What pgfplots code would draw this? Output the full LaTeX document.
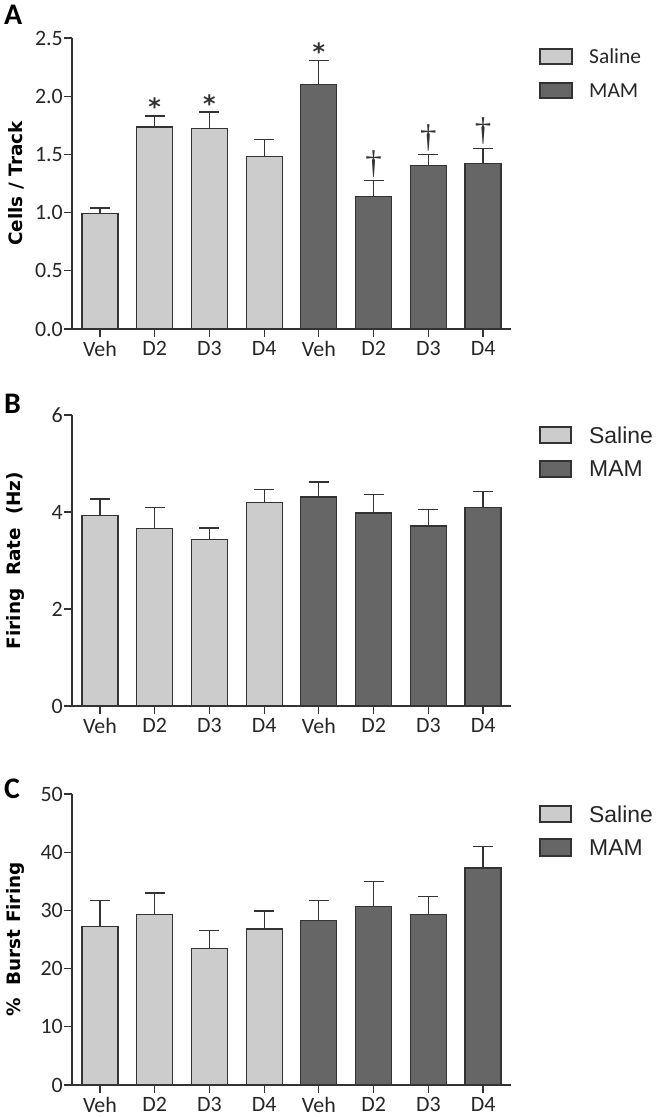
\documentclass[border=0pt]{standalone}
\usepackage{fontspec}
\setmainfont{Carlito}
\newfontfamily\labfont{DejaVu Sans}
\newfontfamily\arialfont{Liberation Sans}
\newfontfamily\timesfont{Liberation Serif}
\usepackage{pgfplots}
\pgfplotsset{compat=1.18}
\definecolor{lightbar}{HTML}{CCCCCC}
\definecolor{darkbar}{HTML}{666666}
\definecolor{edge}{HTML}{333333}
\tikzset{
  sigstar/.style={anchor=north, inner sep=0, font=\labfont\bfseries\fontsize{24}{24}\selectfont, text=black!80},
  sigdag/.style={anchor=north, inner sep=0, font=\timesfont\fontsize{33}{33}\selectfont, text=black!80},
}
\pgfplotsset{
  panel/.style={
    scale only axis, width=439bp, height=291bp,
    xmin=-0.51, xmax=7.51, ymin=0,
    axis x line=bottom, axis y line=left,
    axis line style={-, draw=edge, line width=1.2bp},
    xtick={0,...,7}, xticklabels={Veh,D2,D3,D4,Veh,D2,D3,D4},
    tick align=outside, major tick length=8bp,
    tick style={draw=edge, line width=1.2bp},
    ticklabel style={font=\fontsize{22}{22}\selectfont, inner sep=1bp, text=black!85},
    xticklabel style={yshift=-3bp},
    /pgf/number format/assume math mode=true,
    clip=false,
    every axis y label/.style={at={(axis description cs:-0.1276,0.5)}, rotate=90, anchor=center,
      font=\labfont\bfseries\fontsize{18.5}{18.5}\selectfont},
  },
  barbase/.style={ybar, bar width=36bp, bar shift=0pt, draw=edge, line width=1.2bp,
    error bars/y dir=plus, error bars/y explicit,
    error bars/error bar style={draw=edge, line width=1.2bp},
    error bars/error mark options={rotate=90, mark size=10bp, line width=1.2bp, draw=edge}},
  sal/.style={barbase, fill=lightbar},
  mam/.style={barbase, fill=darkbar},
}
\begin{document}
\begin{tikzpicture}
\useasboundingbox (0,0) rectangle (656bp,-1117bp);
% Panel A
\begin{axis}[panel, at={(72bp,-329bp)}, anchor=south west,
  ymax=2.5, ytick={0,0.5,...,2.5},
  yticklabel style={/pgf/number format/.cd, fixed, fixed zerofill, precision=1},
  ylabel={Cells / Track}]
\addplot[sal] coordinates {(0,0.99) +- (0,0.05) (1,1.735) +- (0,0.095) (2,1.72) +- (0,0.145) (3,1.48) +- (0,0.15)};
\addplot[mam] coordinates {(4,2.10) +- (0,0.21) (5,1.137) +- (0,0.137) (6,1.403) +- (0,0.095) (7,1.423) +- (0,0.131)};
\node[sigstar] at (axis cs:1,1.985) {*};
\node[sigstar] at (axis cs:2,2.01) {*};
\node[sigstar] at (axis cs:4,2.457) {*};
\node[sigdag] at (axis cs:5,1.53) {\char"2020};
\node[sigdag] at (axis cs:6,1.757) {\char"2020};
\node[sigdag] at (axis cs:7,1.82) {\char"2020};
\draw[fill=lightbar, draw=edge, line width=1.2bp] ([xshift=29bp,yshift=-11bp]rel axis cs:1,1) rectangle ++(32bp,-15bp);
\draw[fill=darkbar, draw=edge, line width=1.2bp] ([xshift=29bp,yshift=-45bp]rel axis cs:1,1) rectangle ++(32bp,-15bp);
\node[anchor=west, inner sep=0, font=\fontsize{21.5}{21.5}\selectfont, text=black!85] at ([xshift=78bp,yshift=-18.5bp]rel axis cs:1,1) {Saline};
\node[anchor=west, inner sep=0, font=\fontsize{21.5}{21.5}\selectfont, text=black!85] at ([xshift=78bp,yshift=-52.5bp]rel axis cs:1,1) {MAM};
\node[anchor=north west, inner sep=0, font=\bfseries\fontsize{30}{30}\selectfont] at ([xshift=-68bp,yshift=33bp]rel axis cs:0,1) {A};
\end{axis}
% Panel B
\begin{axis}[panel, at={(72bp,-706bp)}, anchor=south west,
  ymax=6, ytick={0,2,4,6},
  ylabel={Firing~ Rate~ (Hz)}]
\addplot[sal] coordinates {(0,3.93) +- (0,0.34) (1,3.66) +- (0,0.44) (2,3.44) +- (0,0.23) (3,4.20) +- (0,0.27)};
\addplot[mam] coordinates {(4,4.31) +- (0,0.31) (5,3.98) +- (0,0.38) (6,3.71) +- (0,0.34) (7,4.10) +- (0,0.32)};
\draw[fill=lightbar, draw=edge, line width=1.2bp] ([xshift=29bp,yshift=-12bp]rel axis cs:1,1) rectangle ++(31bp,-16bp);
\draw[fill=darkbar, draw=edge, line width=1.2bp] ([xshift=29bp,yshift=-46bp]rel axis cs:1,1) rectangle ++(31bp,-16bp);
\node[anchor=west, inner sep=0, font=\arialfont\fontsize{23}{23}\selectfont, text=black!85] at ([xshift=78bp,yshift=-20bp]rel axis cs:1,1) {Saline};
\node[anchor=west, inner sep=0, font=\arialfont\fontsize{23}{23}\selectfont, text=black!85] at ([xshift=78bp,yshift=-54bp]rel axis cs:1,1) {MAM};
\node[anchor=north west, inner sep=0, font=\bfseries\fontsize{30}{30}\selectfont] at ([xshift=-68bp,yshift=21bp]rel axis cs:0,1) {B};
\end{axis}
% Panel C
\begin{axis}[panel, at={(72bp,-1085bp)}, anchor=south west,
  ymax=50, ytick={0,10,...,50},
  ylabel={\%~ Burst Firing}]
\addplot[sal] coordinates {(0,27.3) +- (0,4.4) (1,29.3) +- (0,3.7) (2,23.5) +- (0,3.1) (3,26.8) +- (0,3.1)};
\addplot[mam] coordinates {(4,28.2) +- (0,3.5) (5,30.7) +- (0,4.2) (6,29.3) +- (0,3.1) (7,37.3) +- (0,3.7)};
\draw[fill=lightbar, draw=edge, line width=1.2bp] ([xshift=29bp,yshift=-12bp]rel axis cs:1,1) rectangle ++(31bp,-16bp);
\draw[fill=darkbar, draw=edge, line width=1.2bp] ([xshift=29bp,yshift=-45bp]rel axis cs:1,1) rectangle ++(31bp,-17bp);
\node[anchor=west, inner sep=0, font=\arialfont\fontsize{23}{23}\selectfont, text=black!85] at ([xshift=78bp,yshift=-20bp]rel axis cs:1,1) {Saline};
\node[anchor=west, inner sep=0, font=\arialfont\fontsize{23}{23}\selectfont, text=black!85] at ([xshift=78bp,yshift=-53.5bp]rel axis cs:1,1) {MAM};
\node[anchor=north west, inner sep=0, font=\bfseries\fontsize{30}{30}\selectfont] at ([xshift=-68bp,yshift=15bp]rel axis cs:0,1) {C};
\end{axis}
\end{tikzpicture}
\end{document}
